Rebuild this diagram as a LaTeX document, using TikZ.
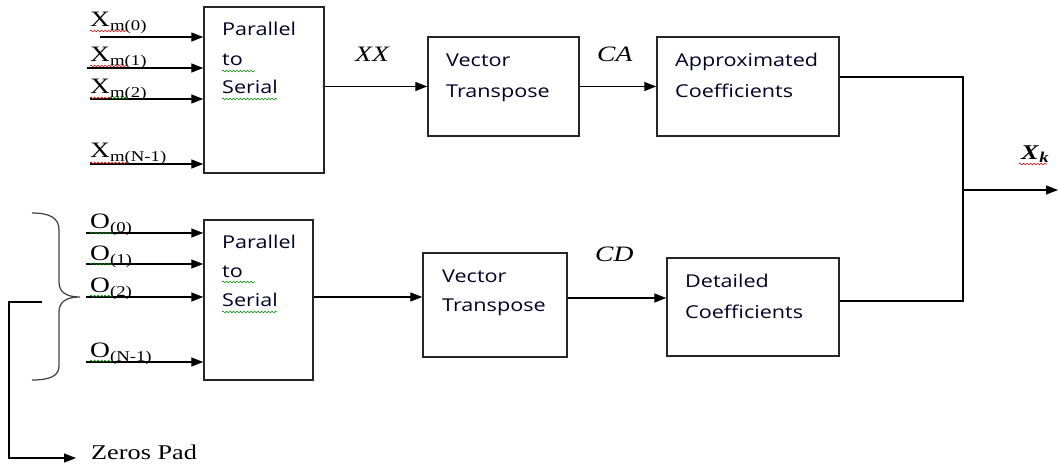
\documentclass[tikz,border=0pt]{standalone}
\usepackage{fontspec}
\setmainfont{Liberation Serif}
\newfontfamily\uisf[FakeStretch=1.22]{Open Sans}
\newfontfamily\tms[FakeStretch=1.25]{Liberation Serif}
\usetikzlibrary{arrows.meta,decorations.pathmorphing}
\newcommand\mysub[1]{\raisebox{-4pt}{\fontsize{15}{16}\selectfont #1}}
\begin{document}
\begin{tikzpicture}[x=1pt,y=-1pt,
 box/.style={draw=black!85, line width=1.5pt, inner sep=0pt, rectangle},
 ln/.style={draw=black, line width=1.4pt},
 arr/.style={ln, -{Triangle[length=12pt,width=9pt]}},
 btxt/.style={anchor=base west, inner sep=0pt, font=\uisf\fontsize{17.7}{21}\selectfont, text=black!85!blue},
 lab/.style={anchor=base west, inner sep=0pt, font=\tms\fontsize{22}{24}\selectfont},
 mlab/.style={anchor=base west, inner sep=0pt, font=\tms\itshape\fontsize{22}{26}\selectfont},
 wr/.style={draw=red!85!black, line width=0.6pt, decorate, decoration={snake, amplitude=0.9pt, segment length=3.5pt}},
 wg/.style={wr, draw=green!55!black},
]
\useasboundingbox (0,0) rectangle (1058,468);

% boxes
\node[box, minimum width=120pt, minimum height=166pt] (p1) at (264,90) {};
\node[box, minimum width=109pt, minimum height=160pt] (p2) at (258.5,300) {};
\node[box, minimum width=151pt, minimum height=99pt] (vt1) at (503.5,86.5) {};
\node[box, minimum width=144pt, minimum height=104pt] (vt2) at (495,305) {};
\node[box, minimum width=182pt, minimum height=99pt] (ap) at (748,86.5) {};
\node[box, minimum width=172pt, minimum height=98pt] (de) at (753,307) {};

% box texts
\node[btxt] (p1a) at (222,36) {Parallel};
\node[btxt] (p1b) at (222,66) {to};
\node[btxt] (p1c) at (222,94) {Serial};
\node[btxt] (p2a) at (222,248) {Parallel};
\node[btxt] (p2b) at (222,277) {to};
\node[btxt] (p2c) at (222,306) {Serial};
\node[btxt] (vt1a) at (446,67) {Vector};
\node[btxt] (vt1b) at (446,98) {Transpose};
\node[btxt] (apa) at (675,67) {Approximated};
\node[btxt] (apb) at (675,98) {Coefficients};
\node[btxt] (vt2a) at (442,282) {Vector};
\node[btxt] (vt2b) at (442,311) {Transpose};
\node[btxt] (dea) at (685,287) {Detailed};
\node[btxt] (deb) at (685,318) {Coefficients};

% input labels
\node[lab] (x0) at (90,27) {X\mysub{m(0)}};
\node[lab] (x1) at (90,62) {X\mysub{m(1)}};
\node[lab] (x2) at (90,94) {X\mysub{m(2)}};
\node[lab] (x3) at (90,158) {X\mysub{m(N-1)}};
\node[lab] (o0) at (90,229) {O\mysub{(0)}};
\node[lab] (o1) at (90,260) {O\mysub{(1)}};
\node[lab] (o2) at (90,292) {O\mysub{(2)}};
\node[lab] (o3) at (90,357) {O\mysub{(N-1)}};

% signal labels
\node[mlab] (lxx) at (355,62) {XX};
\node[mlab] (lca) at (597,62) {CA};
\node[mlab] (lcd) at (595,261) {CD};
\node[anchor=base west, inner sep=0pt, font=\tms\fontsize{21}{24}\selectfont] (lxk) at (1021,160) {\textbf{\textit{X}}\raisebox{-3pt}{\fontsize{15}{16}\selectfont\textbf{\textit{k}}}};
\node[anchor=base west, inner sep=0pt, font=\tms\fontsize{21}{24}\selectfont] (zp) at (91,459) {Zeros Pad};

% input arrows
\coordinate (xa0) at (100,37);
\coordinate (xa1) at (87,68);
\coordinate (xa2) at (90,99);
\coordinate (xa3) at (90,164);
\foreach \c in {xa0,xa1,xa2,xa3} \draw[arr] (\c) -- (\c -| p1.west);
\coordinate (oa0) at (86,233);
\coordinate (oa1) at (86,264);
\coordinate (oa2) at (86,297);
\coordinate (oa3) at (86,362);
\foreach \c in {oa0,oa1,oa2,oa3} \draw[arr] (\c) -- (\c -| p2.west);

% main connectors
\draw[arr] (vt1.west -| p1.east) -- (vt1.west);
\draw[arr] (vt1.east) -- (ap.west);
\draw[arr] ([yshift=3pt]p2.east) -- ([yshift=3pt]p2.east -| vt2.west);
\draw[arr] ([yshift=7pt]vt2.east) -- ([yshift=7pt]vt2.east -| de.west);
\coordinate (j) at (963,190);
\coordinate (xo) at (1058,190);
\draw[ln] ([yshift=9.5pt]ap.east) -| (j) |- ([yshift=6pt]de.east);
\draw[arr] (j) -- (xo);

% brace
\draw[draw=black!75, line width=1.2pt] (32,213) .. controls (50,213) and (59,218) .. (59,230) -- (59,282)
  .. controls (59,292) and (66,297) .. (80,297) .. controls (66,297) and (59,302) .. (59,312) -- (59,366)
  .. controls (59,376) and (50,380) .. (32,380);

% zeros pad connector
\coordinate (zs) at (42,302);
\coordinate (zc) at (9,458);
\coordinate (zt) at (76,458);
\draw[arr] (zs) -- (zs -| zc) -- (zc) -- (zt);

% spell-check underlines
\draw[wr] (90,31) -- (128,31);
\draw[wr] (90,66) -- (128,66);
\draw[wr] (90,98) -- (110,98);
\draw[wg] (110,98) -- (128,98);
\draw[wr] (90,163) -- (128,163);
\draw[wg] (90,233) -- (113,233);
\draw[wg] (90,264) -- (113,264);
\draw[wg] (90,296) -- (113,296);
\draw[wg] (90,361) -- (113,361);
\draw[wg] (222,71) -- (255,71);
\draw[wg] (222,99) -- (277,99);
\draw[wg] (222,282) -- (255,282);
\draw[wg] (222,312) -- (277,312);
\draw[wr] (1019,164) -- (1047,164);
\end{tikzpicture}
\end{document}
